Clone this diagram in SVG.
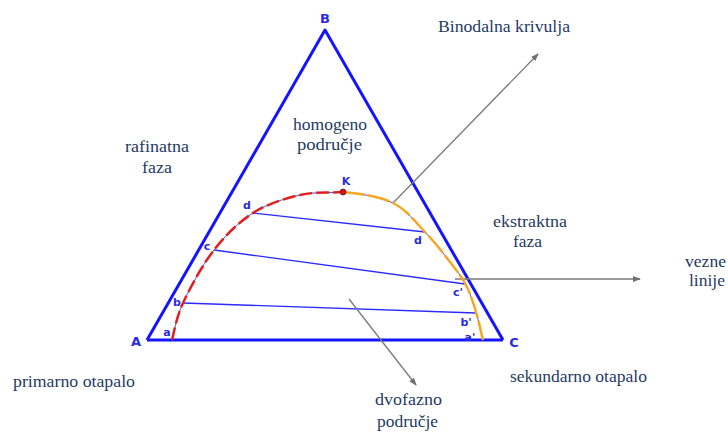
<svg xmlns="http://www.w3.org/2000/svg" width="728" height="433" viewBox="0 0 728 433">
<defs>
<marker id="ah" markerWidth="8" markerHeight="8" refX="7" refY="4" orient="auto" markerUnits="userSpaceOnUse">
<path d="M0,1 L8,4 L0,7 Z" fill="#707070"/>
</marker>
<style>
.lbl{font-family:"Liberation Serif","Times New Roman",serif;font-size:16px;fill:#1f3b63}
.pt{font-family:"DejaVu Sans","Liberation Sans",sans-serif;font-weight:bold;font-size:11px;fill:#2a2ae0;text-anchor:middle}
.vx{font-family:"DejaVu Sans","Liberation Sans",sans-serif;font-weight:bold;font-size:13px;fill:#2a2ae0;text-anchor:middle}
.tie{stroke:#2a2aff;stroke-width:1.4;fill:none}
.arr{stroke:#7a7a7a;stroke-width:1.3;fill:none;marker-end:url(#ah)}
</style>
</defs>
<rect width="728" height="433" fill="#ffffff"/>

<g id="triangle">
<path d="M147,340 L325,30 L503,340" fill="none" stroke="#1414ff" stroke-width="3" stroke-linejoin="round"/>
<line x1="147" y1="340" x2="503" y2="340" stroke="#1414ff" stroke-width="3"/>
<text class="vx" x="136" y="346">A</text>
<text class="vx" x="325" y="23">B</text>
<text class="vx" x="514" y="347">C</text>
</g>

<g id="connectors">
<line class="tie" x1="253" y1="213" x2="425" y2="232"/>
<line class="tie" x1="214" y1="250" x2="465" y2="284"/>
<line class="tie" x1="183" y1="303" x2="476" y2="313"/>
<line class="arr" x1="393" y1="203" x2="538" y2="54"/>
<line class="arr" x1="455" y1="279" x2="640" y2="279"/>
<line class="arr" x1="349" y1="299" x2="416" y2="385"/>
</g>

<g id="binodal">
<path d="M172,340 C173.8,333.8 176,318 183,303 C190,288 202.3,265 214,250 C225.7,235 238.7,222.2 253,213 C267.3,203.8 285,198.5 300,195 C315,191.5 327.5,193.3 343,192 C358.5,193.3 379.3,196.3 393,203 C406.7,209.7 415.5,222.2 425,232 C434.5,241.8 443.2,253.2 450,262 C456.8,270.8 461.7,276.7 466,285 C470.3,293.3 473.2,302.8 476,312 C478.8,321.2 481.8,335.3 483,340" fill="none" stroke="#4a5ad8" stroke-width="1"/>
<path d="M172,340 C173.8,333.8 176,318 183,303 C190,288 202.3,265 214,250 C225.7,235 238.7,222.2 253,213 C267.3,203.8 285,198.5 300,195 C315,191.5 327.5,193.3 343,192" fill="none" stroke="#e02020" stroke-width="2.5" stroke-dasharray="13 4"/>
<path d="M343,192 C358.5,193.3 379.3,196.3 393,203 C406.7,209.7 415.5,222.2 425,232 C434.5,241.8 443.2,253.2 450,262 C456.8,270.8 461.7,276.7 466,285 C470.3,293.3 473.2,302.8 476,312 C478.8,321.2 481.8,335.3 483,340" fill="none" stroke="#f5a623" stroke-width="2.5" stroke-dasharray="22 3"/>
</g>

<g id="point-K">
<circle cx="343" cy="192" r="3" fill="#e01010" stroke="#602020" stroke-width="0.8"/>
<text class="pt" x="346" y="185">K</text>
</g>

<g id="point-labels">
<text class="pt" x="167" y="336">a</text>
<text class="pt" x="177" y="306">b</text>
<text class="pt" x="207" y="250">c</text>
<text class="pt" x="247" y="209">d</text>
<text class="pt" x="418" y="244">d</text>
<text class="pt" x="458" y="296">c'</text>
<text class="pt" x="466" y="326">b'</text>
<text class="pt" x="470" y="341">a'</text>
</g>

<g id="labels">
<text class="lbl" x="438" y="32" textLength="132" lengthAdjust="spacingAndGlyphs">Binodalna krivulja</text>
<text class="lbl" x="125" y="152" textLength="64" lengthAdjust="spacingAndGlyphs">rafinatna</text>
<text class="lbl" x="142" y="173" textLength="30" lengthAdjust="spacingAndGlyphs">faza</text>
<text class="lbl" x="293" y="130" textLength="74" lengthAdjust="spacingAndGlyphs">homogeno</text>
<text class="lbl" x="297" y="150" textLength="65" lengthAdjust="spacingAndGlyphs">područje</text>
<text class="lbl" x="493" y="227" textLength="74" lengthAdjust="spacingAndGlyphs">ekstraktna</text>
<text class="lbl" x="513" y="247" textLength="29" lengthAdjust="spacingAndGlyphs">faza</text>
<text class="lbl" x="685" y="267" textLength="41" lengthAdjust="spacingAndGlyphs">vezne</text>
<text class="lbl" x="689" y="286" textLength="36" lengthAdjust="spacingAndGlyphs">linije</text>
<text class="lbl" x="13" y="387" textLength="122" lengthAdjust="spacingAndGlyphs">primarno otapalo</text>
<text class="lbl" x="510" y="382" textLength="137" lengthAdjust="spacingAndGlyphs">sekundarno otapalo</text>
<text class="lbl" x="375" y="405" textLength="67" lengthAdjust="spacingAndGlyphs">dvofazno</text>
<text class="lbl" x="377" y="427" textLength="61" lengthAdjust="spacingAndGlyphs">područje</text>
</g>
</svg>
